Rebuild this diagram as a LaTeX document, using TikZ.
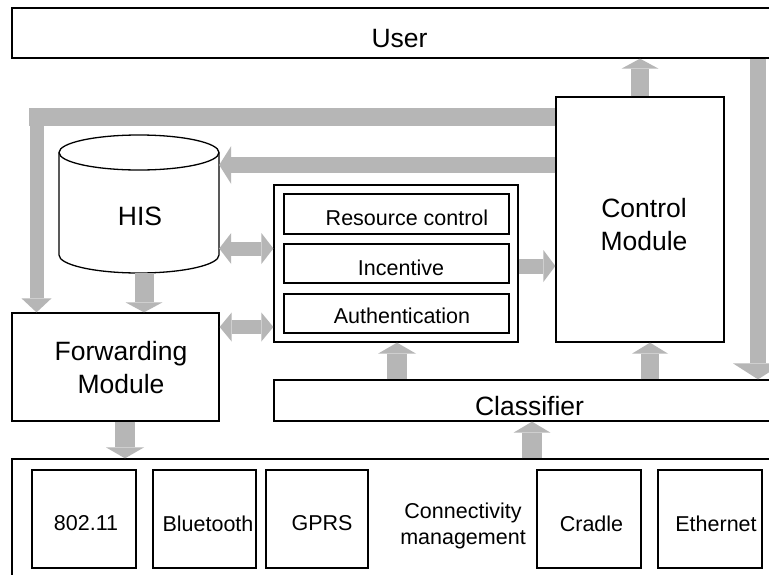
\documentclass[tikz,border=0pt]{standalone}
\usepackage{fontspec}
\setmainfont{Liberation Sans}
\usetikzlibrary{arrows.meta,calc}
\definecolor{shade}{RGB}{182,182,182}
\tikzset{
  box/.style={draw=black, line width=1.3pt, inner sep=0pt, fill=white},
  fat/.style={draw=shade, line width=#1},
  head/.style n args={2}{-{Triangle[width=#1,length=#2,line width=0pt]}},
  heads/.style n args={2}{{Triangle[width=#1,length=#2,line width=0pt]}-{Triangle[width=#1,length=#2,line width=0pt]}},
  big/.style={font=\fontsize{26.5}{33}\selectfont, align=center, inner sep=0pt},
  small/.style={font=\fontsize{21.5}{25.5}\selectfont, align=center, inner sep=0pt},
}
\begin{document}
\begin{tikzpicture}[x=1pt, y=-1pt]
\useasboundingbox (0,0) rectangle (769,574);
\clip (0,0) rectangle (769,574);
\fill[white] (0,0) rectangle (769,574);

% boxes
\node[box, minimum width=774pt, minimum height=50pt] (user) at (399,33) {};
\node[box, minimum width=168pt, minimum height=245pt] (cm) at (640,219.5) {};
\node[box, minimum width=244pt, minimum height=157pt] (cont) at (396,263.5) {};
\node[box, minimum width=225pt, minimum height=40pt] (rc) at (396.5,214) {};
\node[box, minimum width=225pt, minimum height=39pt] (inc) at (396.5,263.5) {};
\node[box, minimum width=225pt, minimum height=39pt] (auth) at (396.5,313.5) {};
\node[box, minimum width=207pt, minimum height=108pt] (fwd) at (115.5,367) {};
\node[box, minimum width=516pt, minimum height=41pt] (cls) at (532,400.5) {};
\node[box, minimum width=778pt, minimum height=131pt] (net) at (401,524.5) {};
\node[box, minimum width=104pt, minimum height=98pt] (wifi) at (84,519) {};
\node[box, minimum width=103pt, minimum height=98pt] (bt) at (204.5,519) {};
\node[box, minimum width=102pt, minimum height=98pt] (gprs) at (317,519) {};
\node[box, minimum width=104pt, minimum height=98pt] (cradle) at (589,519) {};
\node[box, minimum width=104pt, minimum height=98pt] (eth) at (710,519) {};

% HIS store drawn as a cylinder
\node[minimum width=160pt, minimum height=138pt, inner sep=0pt] (his) at (139,204) {};
\draw[line width=1.3pt, fill=white] (59,152.5) -- (59,255)
  arc[start angle=180, end angle=360, x radius=80pt, y radius=18pt] -- (219,152.5);
\draw[line width=1.3pt, fill=white] (139,152.5) ellipse[x radius=80pt, y radius=17.5pt];

% texts
\node[big] (usert) at (399.5,39) {User};
\node[big] (cmt) at (644,225) {Control\\Module};
\node[big] (fwdt) at (121,367.5) {Forwarding\\Module};
\node[big] (clst) at (529.5,406.5) {Classifier};
\node[big] (hist) at (140,216.5) {HIS};
\node[small] (rct) at (407,217.5) {Resource control};
\node[small] (inct) at (401,267.5) {Incentive};
\node[small] (autht) at (402,315.5) {Authentication};
\node[small] (wifit) at (86,523.5) {802.11};
\node[small] (btt) at (208,523.5) {Bluetooth};
\node[small] (gprst) at (322,523.5) {GPRS};
\node[small] (cmgt) at (463,526) {Connectivity\\management};
\node[small] (cradlet) at (591.5,523.5) {Cradle};
\node[small] (etht) at (716,523.5) {Ethernet};

% axes of the block arrows
\coordinate (axR) at (758,0);
\coordinate (axHF) at (144,0);
\coordinate (axCC) at (397,0);
\coordinate (axCM) at (650,0);
\coordinate (axNC) at (532,0);
\coordinate (axFN) at (125,0);
\coordinate (rowTop) at (0,117);
\coordinate (rowHIS) at (0,165);
\coordinate (rowHC) at (0,248.5);
\coordinate (rowFC) at (0,327);
\coordinate (rowCM) at (0,266);
\coordinate (bend) at (36.5,117);

% block arrows
\draw[fat=18pt, head={37pt}{10pt}] (cm.north) -- (cm.north |- user.south);
\draw[fat=16pt, head={50pt}{16pt}] (user.south -| axR) -- (cls.north -| axR);
\draw[fat=18pt] (cm.west |- rowTop) -- ($(bend)+(-7.5,0)$);
\draw[fat=14pt, head={30pt}{14pt}] ($(bend)+(0,-9)$) -- (fwd.north -| bend);
\draw[fat=16pt, head={38pt}{12pt}] (cm.west |- rowHIS) -- (his.east |- rowHIS);
\draw[fat=19pt, head={37pt}{10pt}] (his.south -| axHF) -- (fwd.north -| axHF);
\draw[fat=14pt, heads={31pt}{12pt}] (his.east |- rowHC) -- (cont.west |- rowHC);
\draw[fat=14pt, heads={29pt}{12pt}] (fwd.east |- rowFC) -- (cont.west |- rowFC);
\draw[fat=15pt, head={32pt}{12pt}] (cont.east |- rowCM) -- (cm.west |- rowCM);
\draw[fat=20pt, head={38pt}{11pt}] (cls.north -| axCC) -- (cont.south -| axCC);
\draw[fat=18pt, head={36pt}{11pt}] (cls.north -| axCM) -- (cm.south -| axCM);
\draw[fat=20pt, head={37pt}{11pt}] (net.north -| axNC) -- (cls.south -| axNC);
\draw[fat=20pt, head={38pt}{11pt}] (fwd.south -| axFN) -- (net.north -| axFN);
\end{tikzpicture}
\end{document}
